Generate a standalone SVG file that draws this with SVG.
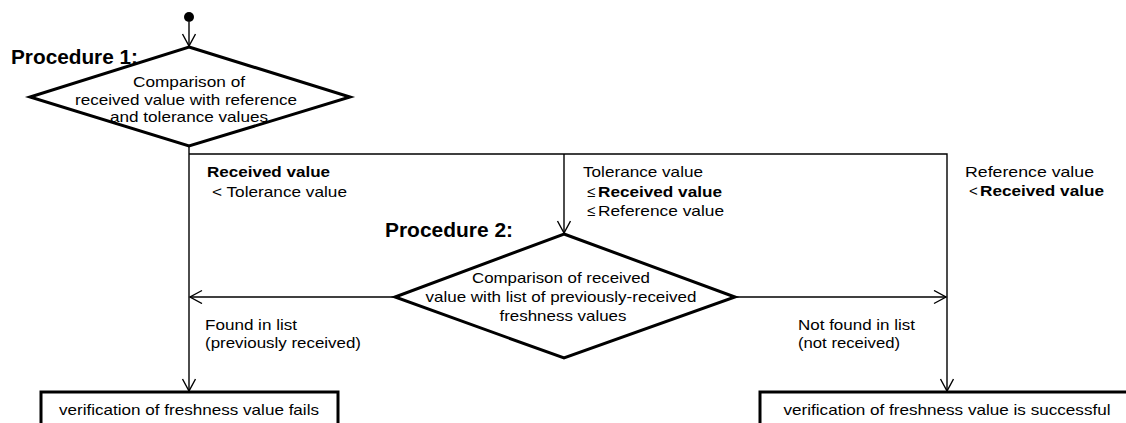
<svg xmlns="http://www.w3.org/2000/svg" width="1126" height="423" viewBox="0 0 1126 423">
<defs>
<marker id="arr" markerUnits="userSpaceOnUse" markerWidth="16" markerHeight="16" refX="13" refY="7" orient="auto">
<path d="M1,0.5 L13,7 L1,13.5" fill="none" stroke="#000" stroke-width="1.4"/>
</marker>
<style>
.t{font-family:"Liberation Sans",Arial,sans-serif;font-size:15px;fill:#000}
.b{font-weight:bold}
.p{font-family:"Liberation Sans",Arial,sans-serif;font-size:20px;font-weight:bold;fill:#000}
.c{text-anchor:middle}
.ln{fill:none;stroke:#000;stroke-width:1.4}
.sh{fill:#fff;stroke:#000;stroke-width:3;stroke-linejoin:miter}
</style>
</defs>
<rect width="1126" height="423" fill="#fff"/>
<g id="connectors">
<line class="ln" x1="189" y1="22" x2="189" y2="46" marker-end="url(#arr)"/>
<polyline class="ln" points="189,146 189,391" marker-end="url(#arr)"/>
<polyline class="ln" points="189,154 947,154 947,391" marker-end="url(#arr)"/>
<polyline class="ln" points="564,154 564,233" marker-end="url(#arr)"/>
<line class="ln" x1="395" y1="297" x2="190" y2="297" marker-end="url(#arr)"/>
<line class="ln" x1="735" y1="297" x2="946" y2="297" marker-end="url(#arr)"/>
</g>
<g id="start">
<circle cx="189" cy="17" r="5" fill="#000"/>
</g>
<g id="procedure1">
<text class="p" x="11" y="64" textLength="127" lengthAdjust="spacingAndGlyphs">Procedure 1:</text>
<polygon class="sh" points="189,47 350,97 189,146 30,97"/>
<text class="t c" x="189" y="87" textLength="112" lengthAdjust="spacingAndGlyphs">Comparison of</text>
<text class="t c" x="186" y="104.5" textLength="222" lengthAdjust="spacingAndGlyphs">received value with reference</text>
<text class="t c" x="189" y="122" textLength="158" lengthAdjust="spacingAndGlyphs">and tolerance values</text>
</g>
<g id="procedure2">
<text class="p" x="385" y="237" textLength="128" lengthAdjust="spacingAndGlyphs">Procedure 2:</text>
<polygon class="sh" points="564,234 735,297 564,358 395,297"/>
<text class="t c" x="561" y="283" textLength="178" lengthAdjust="spacingAndGlyphs">Comparison of received</text>
<text class="t c" x="561" y="302" textLength="271" lengthAdjust="spacingAndGlyphs">value with list of previously-received</text>
<text class="t c" x="563" y="321" textLength="127" lengthAdjust="spacingAndGlyphs">freshness values</text>
</g>
<g id="fail">
<rect class="sh" x="41" y="392" width="297" height="50"/>
<text class="t c" x="189" y="415" textLength="260" lengthAdjust="spacingAndGlyphs">verification of freshness value fails</text>
</g>
<g id="success">
<rect class="sh" x="760" y="392" width="380" height="50"/>
<text class="t c" x="947" y="415" textLength="327" lengthAdjust="spacingAndGlyphs">verification of freshness value is successful</text>
</g>
<g id="labels">
<text class="t b" x="207" y="177" textLength="123" lengthAdjust="spacingAndGlyphs">Received value</text>
<text class="t" x="212" y="197" textLength="135" lengthAdjust="spacingAndGlyphs">&lt; Tolerance value</text>
<text class="t" x="583" y="177" textLength="120" lengthAdjust="spacingAndGlyphs">Tolerance value</text>
<text class="t" x="587" y="197">≤</text>
<text class="t b" x="598" y="197" textLength="124" lengthAdjust="spacingAndGlyphs">Received value</text>
<text class="t" x="587" y="216">≤</text>
<text class="t" x="598" y="216" textLength="126" lengthAdjust="spacingAndGlyphs">Reference value</text>
<text class="t" x="965" y="177" textLength="129" lengthAdjust="spacingAndGlyphs">Reference value</text>
<text class="t" x="969" y="196">&lt;</text>
<text class="t b" x="980" y="196" textLength="124" lengthAdjust="spacingAndGlyphs">Received value</text>
<text class="t" x="205" y="330" textLength="92" lengthAdjust="spacingAndGlyphs">Found in list</text>
<text class="t" x="205" y="348" textLength="156" lengthAdjust="spacingAndGlyphs">(previously received)</text>
<text class="t" x="798" y="330" textLength="117" lengthAdjust="spacingAndGlyphs">Not found in list</text>
<text class="t" x="798" y="348" textLength="102" lengthAdjust="spacingAndGlyphs">(not received)</text>
</g>
</svg>
